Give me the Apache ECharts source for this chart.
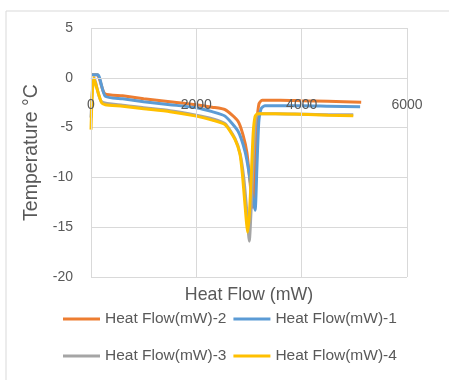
<!DOCTYPE html>
<html>
<head>
<meta charset="utf-8">
<script src="https://cdn.jsdelivr.net/npm/echarts@6/dist/echarts.min.js"></script>
<style>
html, body { margin: 0; padding: 0; background: #fff; }
#chart { width: 449px; height: 380px; }
</style>
</head>
<body>
<div id="chart"></div>
<script>
// series names, as in the legend
var names = ['Heat Flow(mW)-2', 'Heat Flow(mW)-1', 'Heat Flow(mW)-3', 'Heat Flow(mW)-4'];
var colors = ['#ED7D31', '#5B9BD5', '#A5A5A5', '#FFC000'];

// [heat flow, temperature]
var flow2 = [[0,0.3],[120,0.3],[260,-1.6],[600,-1.8],[1000,-2.1],[1500,-2.4],[2000,-2.7],[2300,-2.95],[2545,-3.2],[2790,-4.35],[2885,-5.7],[2960,-7.5],[3020,-10.5],[3070,-13],[3110,-9],[3150,-4.5],[3190,-2.6],[3250,-2.25],[3600,-2.25],[4000,-2.3],[4500,-2.35],[5130,-2.45]];
var flow1 = [[0,0.3],[130,0.3],[270,-1.85],[600,-2.1],[1000,-2.4],[1500,-2.7],[2000,-3.0],[2300,-3.4],[2545,-3.85],[2790,-5.35],[2925,-7.4],[3000,-9.5],[3060,-11.8],[3115,-13.3],[3150,-9],[3185,-4.5],[3230,-3.1],[3300,-2.8],[3600,-2.8],[4000,-2.8],[4500,-2.85],[5110,-2.9]];
var flow3 = [[0,-4],[30,-1],[60,0],[90,-0.5],[200,-2.4],[600,-2.75],[1000,-3.0],[1500,-3.3],[2000,-3.75],[2300,-4.1],[2545,-4.6],[2735,-6.1],[2830,-7.6],[2900,-10],[2960,-13.5],[3005,-16.4],[3050,-12],[3090,-7],[3130,-4],[3180,-3.6],[3500,-3.6],[4000,-3.65],[4500,-3.7],[4980,-3.7]];
var flow4 = [[0,-5.2],[20,-2],[50,0],[80,-0.5],[200,-2.5],[270,-2.7],[600,-2.85],[1000,-3.1],[1500,-3.4],[2000,-3.85],[2300,-4.25],[2545,-4.7],[2735,-6.2],[2830,-7.7],[2875,-9.7],[2920,-12.5],[2975,-15.5],[3010,-13.5],[3050,-9],[3080,-5.5],[3115,-3.9],[3160,-3.6],[3500,-3.6],[4000,-3.65],[4500,-3.75],[4980,-3.8]];

var allData = [flow2, flow1, flow3, flow4];
var txt = '#595959';
var fontName = 'Liberation Sans';

var chart = echarts.init(document.getElementById('chart'));

var seriesList = [];
for (var i = 0; i < names.length; i++) {
    seriesList.push({
        name: names[i],
        type: 'line',
        data: allData[i],
        smooth: 0.2,
        showSymbol: false,
        symbol: 'none',
        lineStyle: { width: 3, color: colors[i] },
        itemStyle: { color: colors[i] }
    });
}

var option = {
    backgroundColor: '#fff',
    animation: false,
    textStyle: { fontFamily: fontName },
    graphic: [{
        type: 'rect',
        shape: { x: 6, y: 11, width: 470, height: 400 },
        style: { fill: 'none', stroke: '#D9D9D9', lineWidth: 1 },
        silent: true
    }],
    title: {
        text: 'Heat Flow (mW)',
        left: 249, top: 286,
        textAlign: 'center',
        padding: 0,
        textStyle: { color: txt, fontSize: 17.8, fontWeight: 'normal', fontFamily: fontName }
    },
    grid: { left: 91, right: 42, top: 28, bottom: 103 },
    legend: [{
        data: [names[0], names[1]],
        left: 58, top: 306,
        icon: 'rect', itemWidth: 37, itemHeight: 3, itemGap: 7,
        textStyle: { color: txt, fontSize: 15.5, fontFamily: fontName }
    }, {
        data: [names[2], names[3]],
        left: 58, top: 343,
        icon: 'rect', itemWidth: 37, itemHeight: 3, itemGap: 7,
        textStyle: { color: txt, fontSize: 15.5, fontFamily: fontName }
    }],
    xAxis: {
        type: 'value',
        position: 'bottom',
        offset: -199.2,
        z: 10,
        min: 0, max: 6000, interval: 2000,
        axisLine: { show: true, onZero: false, lineStyle: { color: '#D9D9D9' } },
        axisTick: { show: false },
        axisLabel: { color: txt, fontSize: 14, margin: 20, formatter: function (v) { return String(v); } },
        splitLine: { lineStyle: { color: '#D9D9D9' } }
    },
    yAxis: {
        type: 'value',
        min: -20, max: 5, interval: 5,
        axisLine: { show: false, onZero: false },
        axisTick: { show: false },
        axisLabel: { color: txt, fontSize: 14, margin: 18 },
        splitLine: { lineStyle: { color: '#D9D9D9' } },
        name: 'Temperature \u00B0C',
        nameLocation: 'middle',
        nameGap: 43,
        nameTextStyle: { color: txt, fontSize: 19.5, fontFamily: fontName }
    },
    series: seriesList
};
chart.setOption(option);
</script>
</body>
</html>
